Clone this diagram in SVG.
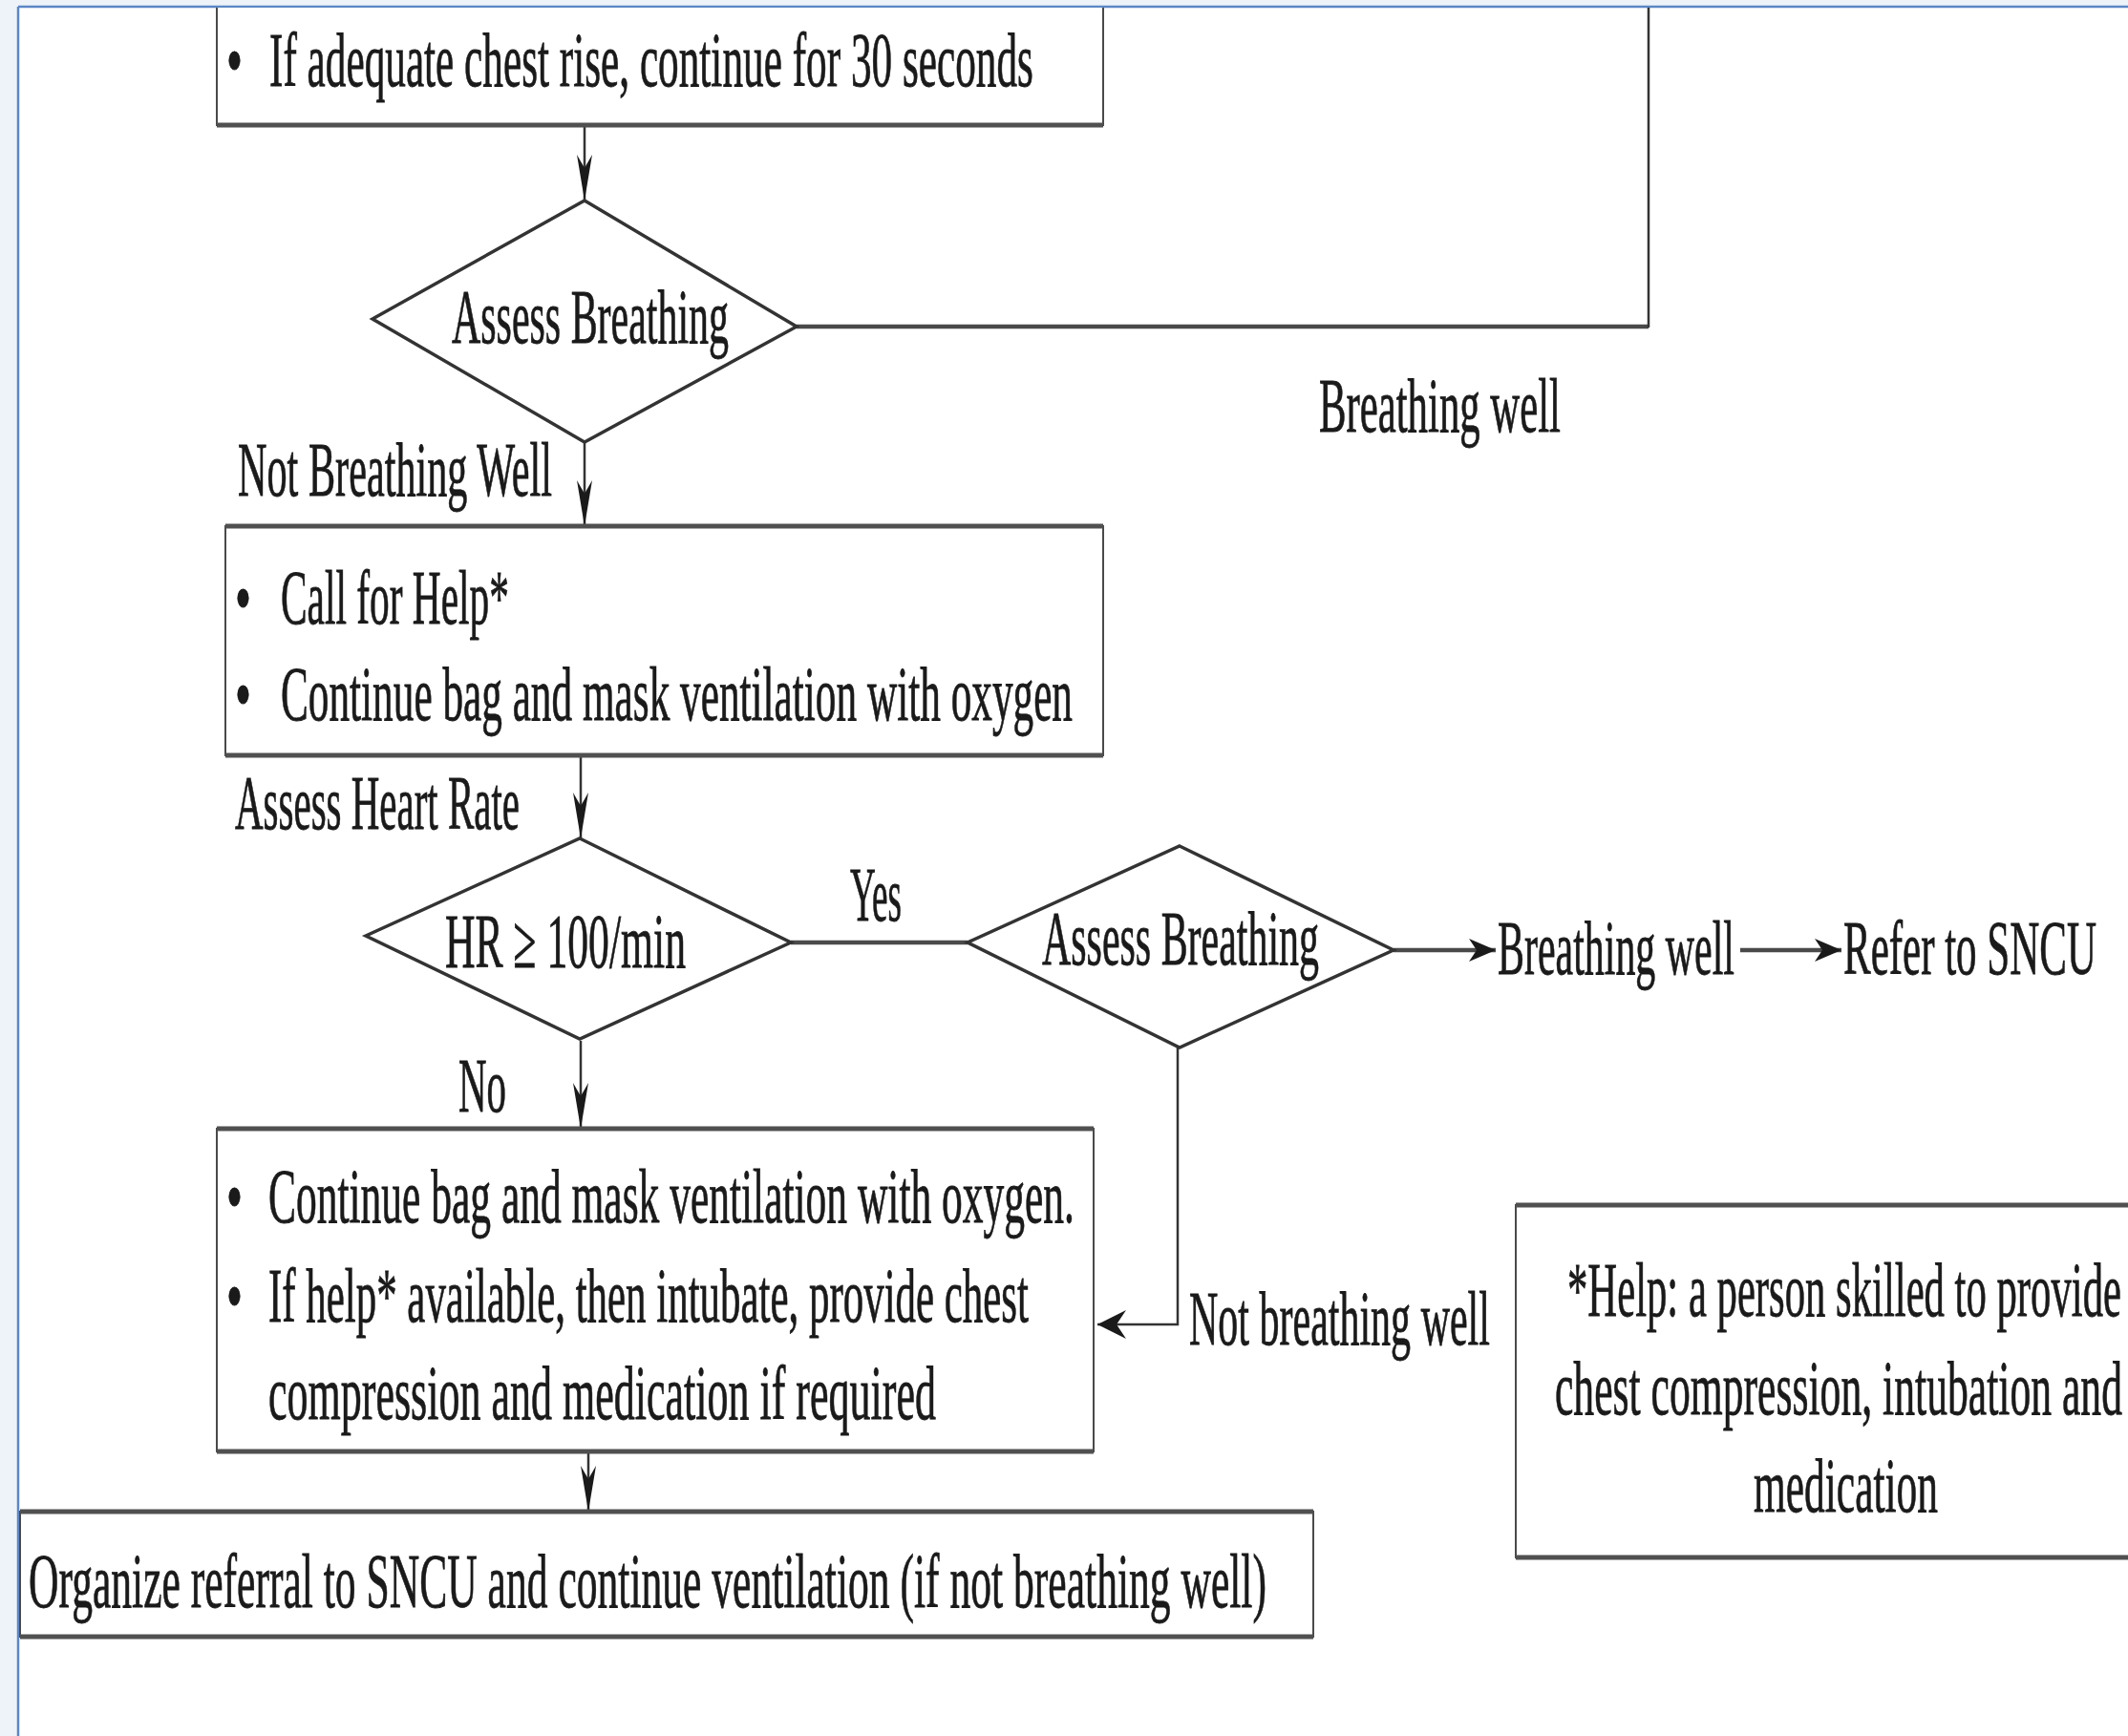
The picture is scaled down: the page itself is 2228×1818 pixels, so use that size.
<svg xmlns="http://www.w3.org/2000/svg" width="2228" height="1818" viewBox="0 0 2228 1818">
<style>
.t{font-family:"Liberation Serif","Times New Roman",serif;font-size:80px;fill:#1a1a1a;stroke:#1a1a1a;stroke-width:0.8}
.box{fill:#fff;stroke:#4a4a4a;stroke-width:2}
.edge{stroke:#505050;stroke-width:5;fill:none}
.dia{fill:#fff;stroke:#333;stroke-width:3.5}
.ln{stroke:#333;stroke-width:2.5;fill:none}
.lnt{stroke:#4a4a4a;stroke-width:4.5;fill:none}
</style>
<defs>
<marker id="ad" markerUnits="userSpaceOnUse" viewBox="0 0 48 16" refX="48" refY="8" markerWidth="48" markerHeight="16" orient="auto">
<path d="M0,0 L48,8 L0,16 L14,8 z" fill="#1a1a1a"/>
</marker>
<marker id="ah" markerUnits="userSpaceOnUse" viewBox="0 0 28 24" refX="28" refY="12" markerWidth="28" markerHeight="24" orient="auto">
<path d="M0,0 L28,12 L0,24 L8,12 z" fill="#1a1a1a"/>
</marker>
<marker id="al" markerUnits="userSpaceOnUse" viewBox="0 0 30 30" refX="30" refY="15" markerWidth="30" markerHeight="30" orient="auto">
<path d="M0,0 L30,15 L0,30 L10,15 z" fill="#1a1a1a"/>
</marker>
</defs>
<rect x="0" y="0" width="2228" height="1818" fill="#eef3f9"/>
<rect x="19" y="7" width="2209" height="1811" fill="#fff"/>
<line x1="19" y1="7" x2="2228" y2="7" stroke="#5b87c5" stroke-width="2.5"/>
<line x1="19" y1="7" x2="19" y2="1818" stroke="#5b87c5" stroke-width="2.5"/>

<g id="connectors">
<line class="ln" x1="612" y1="131" x2="612" y2="210" marker-end="url(#ad)"/>
<path class="lnt" d="M834,342 L1726,342"/>
<path class="ln" d="M1726,343 L1726,8"/>
<line class="ln" x1="612" y1="463" x2="612" y2="551" marker-end="url(#ad)"/>
<line class="ln" x1="608" y1="791" x2="608" y2="878" marker-end="url(#ad)"/>
<line class="lnt" x1="828" y1="987" x2="1013" y2="987"/>
<line class="lnt" x1="1459" y1="995" x2="1566" y2="995" marker-end="url(#ah)"/>
<line class="lnt" x1="1822" y1="995" x2="1928" y2="995" marker-end="url(#ah)"/>
<path class="ln" d="M1233,1096 L1233,1387 L1149,1387" marker-end="url(#al)"/>
<line class="ln" x1="608" y1="1090" x2="608" y2="1182" marker-end="url(#ad)"/>
<line class="ln" x1="616" y1="1520" x2="616" y2="1583" marker-end="url(#ad)"/>
</g>

<g id="n-top">
<path class="box" d="M227,8 L227,131 L1155,131 L1155,8"/>
<line class="edge" x1="227" y1="131" x2="1155" y2="131"/>
<text class="t" transform="scale(0.55 1)" x="430.9" y="90" textLength="30.9" lengthAdjust="spacingAndGlyphs">•</text>
<text class="t" transform="scale(0.55 1)" x="512.7" y="90" textLength="1454.5" lengthAdjust="spacingAndGlyphs">If adequate chest rise, continue for 30 seconds</text>
</g>

<g id="n-assess1">
<polygon class="dia" points="612,210 834,342 612,463 390,334"/>
<text class="t" transform="scale(0.55 1)" x="860" y="359" textLength="527.3" lengthAdjust="spacingAndGlyphs">Assess Breathing</text>
</g>

<g id="n-labels">
<text class="t" transform="scale(0.55 1)" x="2510.9" y="452" textLength="460" lengthAdjust="spacingAndGlyphs">Breathing well</text>
<text class="t" transform="scale(0.55 1)" x="452.7" y="519" textLength="598.2" lengthAdjust="spacingAndGlyphs">Not Breathing Well</text>
<text class="t" transform="scale(0.55 1)" x="447.3" y="868" textLength="541.8" lengthAdjust="spacingAndGlyphs">Assess Heart Rate</text>
<text class="t" transform="scale(0.55 1)" x="1618.2" y="964" textLength="98.2" lengthAdjust="spacingAndGlyphs">Yes</text>
<text class="t" transform="scale(0.55 1)" x="872.7" y="1164" textLength="90.9" lengthAdjust="spacingAndGlyphs">No</text>
<text class="t" transform="scale(0.55 1)" x="2263.6" y="1408" textLength="572.7" lengthAdjust="spacingAndGlyphs">Not breathing well</text>
</g>

<g id="n-help-call">
<rect class="box" x="236" y="551" width="919" height="240"/>
<line class="edge" x1="236" y1="551" x2="1155" y2="551"/>
<line class="edge" x1="236" y1="791" x2="1155" y2="791"/>
<text class="t" transform="scale(0.55 1)" x="447.3" y="653" textLength="30.9" lengthAdjust="spacingAndGlyphs">•</text>
<text class="t" transform="scale(0.55 1)" x="534.5" y="653" textLength="434.5" lengthAdjust="spacingAndGlyphs">Call for Help*</text>
<text class="t" transform="scale(0.55 1)" x="447.3" y="754" textLength="30.9" lengthAdjust="spacingAndGlyphs">•</text>
<text class="t" transform="scale(0.55 1)" x="534.5" y="754" textLength="1507.3" lengthAdjust="spacingAndGlyphs">Continue bag and mask ventilation with oxygen</text>
</g>

<g id="n-hr">
<polygon class="dia" points="607,878 828,987 607,1088 383,980"/>
<text class="t" transform="scale(0.55 1)" x="847.3" y="1013" textLength="458.2" lengthAdjust="spacingAndGlyphs">HR ≥ 100/min</text>
</g>

<g id="n-assess2">
<polygon class="dia" points="1235,886 1459,995 1235,1097 1013,987"/>
<text class="t" transform="scale(0.55 1)" x="1983.6" y="1010" textLength="527.3" lengthAdjust="spacingAndGlyphs">Assess Breathing</text>
</g>

<g id="n-breathing-well">
<text class="t" transform="scale(0.55 1)" x="2850.9" y="1020" textLength="450.9" lengthAdjust="spacingAndGlyphs">Breathing well</text>
</g>

<g id="n-refer">
<text class="t" transform="scale(0.55 1)" x="3509.1" y="1020" textLength="481.8" lengthAdjust="spacingAndGlyphs">Refer to SNCU</text>
</g>

<g id="n-continue">
<rect class="box" x="227" y="1182" width="918" height="338"/>
<line class="edge" x1="227" y1="1182" x2="1145" y2="1182"/>
<line class="edge" x1="227" y1="1520" x2="1145" y2="1520"/>
<text class="t" transform="scale(0.55 1)" x="430.9" y="1280" textLength="30.9" lengthAdjust="spacingAndGlyphs">•</text>
<text class="t" transform="scale(0.55 1)" x="510.9" y="1280" textLength="1534.5" lengthAdjust="spacingAndGlyphs">Continue bag and mask ventilation with oxygen.</text>
<text class="t" transform="scale(0.55 1)" x="430.9" y="1384" textLength="30.9" lengthAdjust="spacingAndGlyphs">•</text>
<text class="t" transform="scale(0.55 1)" x="510.9" y="1384" textLength="1447.3" lengthAdjust="spacingAndGlyphs">If help* available, then intubate, provide chest</text>
<text class="t" transform="scale(0.55 1)" x="510.9" y="1486" textLength="1270.9" lengthAdjust="spacingAndGlyphs">compression and medication if required</text>
</g>

<g id="n-organize">
<rect class="box" x="21" y="1583" width="1354" height="131"/>
<line class="edge" x1="21" y1="1583" x2="1375" y2="1583"/>
<line class="edge" x1="21" y1="1714" x2="1375" y2="1714"/>
<text class="t" transform="scale(0.55 1)" x="54.5" y="1683" textLength="2356.4" lengthAdjust="spacingAndGlyphs">Organize referral to SNCU and continue ventilation (if not breathing well)</text>
</g>

<g id="n-help-note">
<path class="box" d="M2230,1262 L1587,1262 L1587,1631 L2230,1631"/>
<line class="edge" x1="1587" y1="1262" x2="2228" y2="1262"/>
<line class="edge" x1="1587" y1="1631" x2="2228" y2="1631"/>
<text class="t" transform="scale(0.53 1)" x="3096.2" y="1378" textLength="1094.3" lengthAdjust="spacingAndGlyphs">*Help: a person skilled to provide</text>
<text class="t" transform="scale(0.55 1)" x="2960" y="1481" textLength="1080" lengthAdjust="spacingAndGlyphs">chest compression, intubation and</text>
<text class="t" transform="scale(0.55 1)" x="3338.2" y="1583" textLength="350.9" lengthAdjust="spacingAndGlyphs">medication</text>
</g>
</svg>
